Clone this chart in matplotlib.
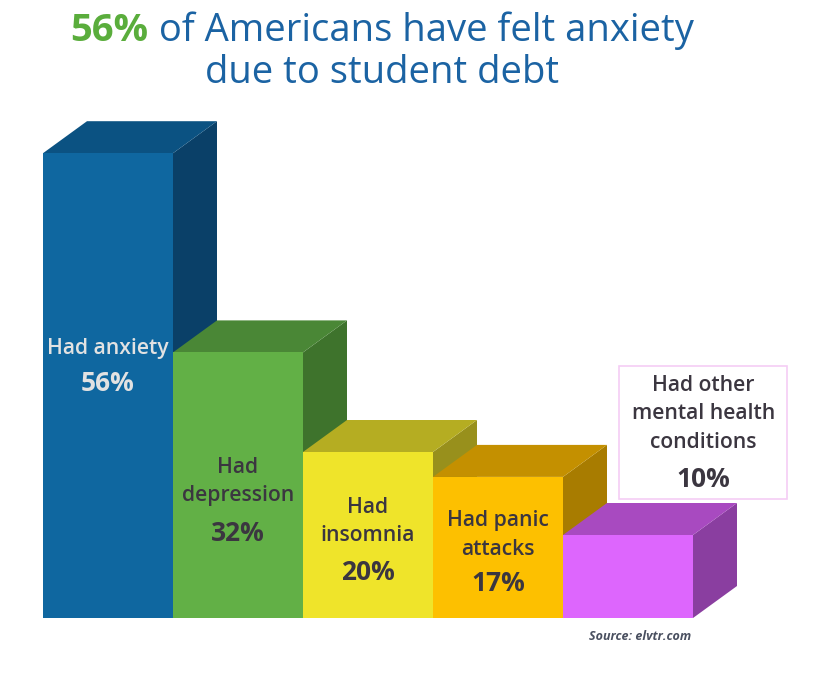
import matplotlib.pyplot as plt
from matplotlib.patches import Polygon, Rectangle

# data
categories = ["Had anxiety", "Had\ndepression", "Had\ninsomnia", "Had panic\nattacks",
              "Had other\nmental health\nconditions"]
values = [56, 32, 20, 17, 10]
front_colors = ["#0f67a0", "#62b046", "#efe42a", "#fdc000", "#dd66fd"]
top_colors = ["#0b5282", "#4a8736", "#b5ad22", "#c49000", "#a84ac0"]
side_colors = ["#0a4068", "#3e732c", "#98901c", "#a87c00", "#8a3ea0"]
label_colors = ["#e2e2e2", "#3b3640", "#3b3640", "#3b3640", "#3b3640"]

FONT = "Open Sans"
plt.rcParams["font.family"] = [FONT, "DejaVu Sans"]

W, H = 830, 673
fig = plt.figure(figsize=(W / 100, H / 100), dpi=100)
fig.patch.set_facecolor("white")

# axes in data units: one bar = 1 unit wide (130 px), 1% = 8.3 px
px_bar, px_pct = 130, 8.3
x_max, y_max = 6.0, 65.0
ax = fig.add_axes([43 / W, 55 / H, x_max * px_bar / W, y_max * px_pct / H])
ax.set_xlim(0, x_max)
ax.set_ylim(0, y_max)
ax.axis("off")

dx = 44 / px_bar   # depth offset
dy = 32 / px_pct

for i, v in enumerate(values):
    x0, x1 = i, i + 1
    side = Polygon([(x1, 0), (x1 + dx, dy), (x1 + dx, v + dy), (x1, v)],
                   closed=True, facecolor=side_colors[i], edgecolor="none")
    top = Polygon([(x0, v), (x0 + dx, v + dy), (x1 + dx, v + dy), (x1, v)],
                  closed=True, facecolor=top_colors[i], edgecolor="none")
    front = Rectangle((x0, 0), 1, v, facecolor=front_colors[i], edgecolor="none")
    for p in (side, top, front):
        ax.add_patch(p)

NAME_FS, PCT_FS = 15.2, 19

# label layout (y in % units): (name y, pct y)
label_pos = [(32.5, 28.3), (16.4, 10.2), (11.6, 5.5), (10.0, 4.1)]
for i in range(4):
    name_y, pct_y = label_pos[i]
    ax.text(i + 0.5, name_y, categories[i], ha="center", va="center", fontsize=NAME_FS,
            color=label_colors[i], fontweight="semibold", linespacing=1.45)
    ax.text(i + 0.5, pct_y, f"{values[i]}%", ha="center", va="center", fontsize=PCT_FS,
            color=label_colors[i], fontweight="bold")

# boxed label for the last bar
ax.add_patch(Rectangle((4.43, 14.3), 1.29, 16.1, facecolor="white",
                       edgecolor="#f5cdf5", linewidth=1.2))
ax.text(5.08, 24.6, categories[4], ha="center", va="center", fontsize=NAME_FS,
        color=label_colors[4], fontweight="semibold", linespacing=1.45)
ax.text(5.08, 16.7, f"{values[4]}%", ha="center", va="center", fontsize=PCT_FS,
        color=label_colors[4], fontweight="bold")

# title
green, blue = "#5aad3c", "#1b63a3"
TITLE_FS = 27.5
fig.canvas.draw()
r = fig.canvas.get_renderer()
t1 = fig.text(0, 0, "56%", fontsize=TITLE_FS, fontweight="bold", color=green, va="center")
t2 = fig.text(0, 0, " of Americans have felt anxiety", fontsize=TITLE_FS, color=blue,
              va="center")
w1 = t1.get_window_extent(r).width
w2 = t2.get_window_extent(r).width
start = 382 - (w1 + w2) / 2
yline = 1 - 31 / H
t1.set_position((start / W, yline))
t2.set_position(((start + w1) / W, yline))
fig.text(382 / W, 1 - 73 / H, "due to student debt", fontsize=TITLE_FS, color=blue,
         ha="center", va="center")

fig.text(640 / W, 1 - 636 / H, "Source: elvtr.com", fontsize=9, color="#4a5060",
         fontstyle="italic", fontweight="bold", ha="center", va="center")

fig.savefig("out.png", dpi=100, facecolor="white")
